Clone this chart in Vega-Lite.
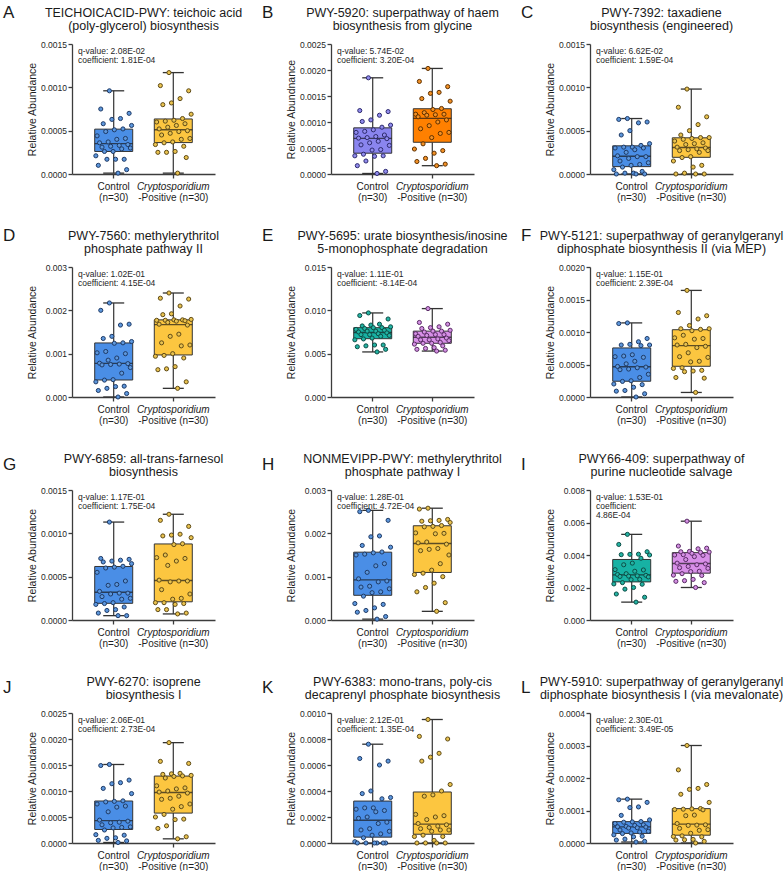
{
"$schema":"https://vega.github.io/schema/vega-lite/v6.json",
"padding":{"left":3,"top":3,"right":0,"bottom":0},
"bounds":"flush",
"columns":3,
"spacing":{"row":93,"column":116},
"resolve":{"scale":{"color":"independent","fill":"independent","stroke":"independent","xOffset":"independent"}},
"config":{
 "font":"Liberation Sans",
 "view":{"stroke":null},
 "axis":{"domainColor":"#3c3c3c","domainWidth":1.3,"tickColor":"#3c3c3c","tickWidth":1.3,"tickSize":4,"labelColor":"#1f1f1f","titleColor":"#1f1f1f","labelFont":"Liberation Sans","titleFont":"Liberation Sans","grid":false,"titleFontWeight":"normal","labelOverlap":false},
 "axisY":{"labelFontSize":8.5,"labelPadding":1.5,"minExtent":31,"maxExtent":31,"titlePadding":4,"titleFontSize":10.5,"labelOverlap":false},
 "axisX":{"labelFontSize":10,"labelPadding":14,"labelAngle":0},
 "style":{
  "ttl":{"fontSize":12.5,"lineHeight":12.8,"align":"center","baseline":"alphabetic","lineBreak":"\n","dy":-27,"color":"#1a1a1a"},
  "let":{"fontSize":17,"align":"left","baseline":"alphabetic","dx":-140.5,"color":"#1a1a1a"},
  "stt":{"fontSize":8.5,"lineHeight":8.8,"align":"left","baseline":"alphabetic","lineBreak":"\n","dx":-65.5,"dy":10,"color":"#262626"},
  "lab":{"fontSize":10,"align":"center","baseline":"alphabetic","dy":16,"color":"#1a1a1a"}
 }
},
"datasets":{
"ann":[
{"p":"A","ti":"TEICHOICACID-PWY: teichoic acid\n(poly-glycerol) biosynthesis","st":"q-value: 2.08E-02\ncoefficient: 1.81E-04"},
{"p":"B","ti":"PWY-5920: superpathway of haem\nbiosynthesis from glycine","st":"q-value: 5.74E-02\ncoefficient: 3.20E-04"},
{"p":"C","ti":"PWY-7392: taxadiene\nbiosynthesis (engineered)","st":"q-value: 6.62E-02\ncoefficient: 1.59E-04"},
{"p":"D","ti":"PWY-7560: methylerythritol\nphosphate pathway II","st":"q-value: 1.02E-01\ncoefficient: 4.15E-04"},
{"p":"E","ti":"PWY-5695: urate biosynthesis/inosine\n5-monophosphate degradation","st":"q-value: 1.11E-01\ncoefficient: -8.14E-04"},
{"p":"F","ti":"PWY-5121: superpathway of geranylgeranyl\ndiphosphate biosynthesis II (via MEP)","st":"q-value: 1.15E-01\ncoefficient: 2.39E-04"},
{"p":"G","ti":"PWY-6859: all-trans-farnesol\nbiosynthesis","st":"q-value: 1.17E-01\ncoefficient: 1.75E-04"},
{"p":"H","ti":"NONMEVIPP-PWY: methylerythritol\nphosphate pathway I","st":"q-value: 1.28E-01\ncoefficient: 4.72E-04"},
{"p":"I","ti":"PWY66-409: superpathway of\npurine nucleotide salvage","st":"q-value: 1.53E-01\ncoefficient:\n4.86E-04"},
{"p":"J","ti":"PWY-6270: isoprene\nbiosynthesis I","st":"q-value: 2.06E-01\ncoefficient: 2.73E-04"},
{"p":"K","ti":"PWY-6383: mono-trans, poly-cis\ndecaprenyl phosphate biosynthesis","st":"q-value: 2.12E-01\ncoefficient: 1.35E-04"},
{"p":"L","ti":"PWY-5910: superpathway of geranylgeranyl\ndiphosphate biosynthesis I (via mevalonate)","st":"q-value: 2.30E-01\ncoefficient: 3.49E-05"}
],
"pts":[
{"p":"A","g":"Control","v":0.00001},{"p":"A","g":"Control","v":0.00005},{"p":"A","g":"Control","v":0.00010},{"p":"A","g":"Control","v":0.00017},{"p":"A","g":"Control","v":0.00017},{"p":"A","g":"Control","v":0.00017},{"p":"A","g":"Control","v":0.00021},{"p":"A","g":"Control","v":0.00026},{"p":"A","g":"Control","v":0.00026},{"p":"A","g":"Control","v":0.00029},{"p":"A","g":"Control","v":0.00030},{"p":"A","g":"Control","v":0.00031},{"p":"A","g":"Control","v":0.00032},{"p":"A","g":"Control","v":0.00033},{"p":"A","g":"Control","v":0.00034},{"p":"A","g":"Control","v":0.00036},{"p":"A","g":"Control","v":0.00037},{"p":"A","g":"Control","v":0.00040},{"p":"A","g":"Control","v":0.00041},{"p":"A","g":"Control","v":0.00044},{"p":"A","g":"Control","v":0.00049},{"p":"A","g":"Control","v":0.00051},{"p":"A","g":"Control","v":0.00052},{"p":"A","g":"Control","v":0.00056},{"p":"A","g":"Control","v":0.00058},{"p":"A","g":"Control","v":0.00063},{"p":"A","g":"Control","v":0.00064},{"p":"A","g":"Control","v":0.00070},{"p":"A","g":"Control","v":0.00075},{"p":"A","g":"Control","v":0.00096},
{"p":"A","g":"Positive","v":0.00117},{"p":"A","g":"Positive","v":0.00102},{"p":"A","g":"Positive","v":0.00096},{"p":"A","g":"Positive","v":0.00087},{"p":"A","g":"Positive","v":0.00082},{"p":"A","g":"Positive","v":0.00080},{"p":"A","g":"Positive","v":0.00069},{"p":"A","g":"Positive","v":0.00064},{"p":"A","g":"Positive","v":0.00062},{"p":"A","g":"Positive","v":0.00061},{"p":"A","g":"Positive","v":0.00060},{"p":"A","g":"Positive","v":0.00058},{"p":"A","g":"Positive","v":0.00056},{"p":"A","g":"Positive","v":0.00054},{"p":"A","g":"Positive","v":0.00052},{"p":"A","g":"Positive","v":0.00050},{"p":"A","g":"Positive","v":0.00049},{"p":"A","g":"Positive","v":0.00047},{"p":"A","g":"Positive","v":0.00045},{"p":"A","g":"Positive","v":0.00041},{"p":"A","g":"Positive","v":0.00040},{"p":"A","g":"Positive","v":0.00037},{"p":"A","g":"Positive","v":0.00036},{"p":"A","g":"Positive","v":0.00034},{"p":"A","g":"Positive","v":0.00032},{"p":"A","g":"Positive","v":0.00026},{"p":"A","g":"Positive","v":0.00025},{"p":"A","g":"Positive","v":0.00025},{"p":"A","g":"Positive","v":0.00019},{"p":"A","g":"Positive","v":0.00001},
{"p":"B","g":"Control","v":0.00185},{"p":"B","g":"Control","v":0.00122},{"p":"B","g":"Control","v":0.00120},{"p":"B","g":"Control","v":0.00113},{"p":"B","g":"Control","v":0.00104},{"p":"B","g":"Control","v":0.00101},{"p":"B","g":"Control","v":0.00094},{"p":"B","g":"Control","v":0.00090},{"p":"B","g":"Control","v":0.00085},{"p":"B","g":"Control","v":0.00082},{"p":"B","g":"Control","v":0.00080},{"p":"B","g":"Control","v":0.00075},{"p":"B","g":"Control","v":0.00072},{"p":"B","g":"Control","v":0.00070},{"p":"B","g":"Control","v":0.00069},{"p":"B","g":"Control","v":0.00068},{"p":"B","g":"Control","v":0.00063},{"p":"B","g":"Control","v":0.00060},{"p":"B","g":"Control","v":0.00056},{"p":"B","g":"Control","v":0.00055},{"p":"B","g":"Control","v":0.00047},{"p":"B","g":"Control","v":0.00046},{"p":"B","g":"Control","v":0.00038},{"p":"B","g":"Control","v":0.00035},{"p":"B","g":"Control","v":0.00035},{"p":"B","g":"Control","v":0.00034},{"p":"B","g":"Control","v":0.00025},{"p":"B","g":"Control","v":0.00016},{"p":"B","g":"Control","v":0.00005},{"p":"B","g":"Control","v":0.00001},
{"p":"B","g":"Positive","v":0.00203},{"p":"B","g":"Positive","v":0.00178},{"p":"B","g":"Positive","v":0.00168},{"p":"B","g":"Positive","v":0.00157},{"p":"B","g":"Positive","v":0.00155},{"p":"B","g":"Positive","v":0.00145},{"p":"B","g":"Positive","v":0.00140},{"p":"B","g":"Positive","v":0.00126},{"p":"B","g":"Positive","v":0.00124},{"p":"B","g":"Positive","v":0.00118},{"p":"B","g":"Positive","v":0.00115},{"p":"B","g":"Positive","v":0.00115},{"p":"B","g":"Positive","v":0.00114},{"p":"B","g":"Positive","v":0.00113},{"p":"B","g":"Positive","v":0.00110},{"p":"B","g":"Positive","v":0.00104},{"p":"B","g":"Positive","v":0.00100},{"p":"B","g":"Positive","v":0.00093},{"p":"B","g":"Positive","v":0.00087},{"p":"B","g":"Positive","v":0.00080},{"p":"B","g":"Positive","v":0.00078},{"p":"B","g":"Positive","v":0.00070},{"p":"B","g":"Positive","v":0.00058},{"p":"B","g":"Positive","v":0.00048},{"p":"B","g":"Positive","v":0.00045},{"p":"B","g":"Positive","v":0.00040},{"p":"B","g":"Positive","v":0.00030},{"p":"B","g":"Positive","v":0.00024},{"p":"B","g":"Positive","v":0.00019},{"p":"B","g":"Positive","v":0.00016},
{"p":"C","g":"Control","v":0.00064},{"p":"C","g":"Control","v":0.00063},{"p":"C","g":"Control","v":0.00060},{"p":"C","g":"Control","v":0.00059},{"p":"C","g":"Control","v":0.00050},{"p":"C","g":"Control","v":0.00045},{"p":"C","g":"Control","v":0.00035},{"p":"C","g":"Control","v":0.00033},{"p":"C","g":"Control","v":0.00031},{"p":"C","g":"Control","v":0.00031},{"p":"C","g":"Control","v":0.00030},{"p":"C","g":"Control","v":0.00030},{"p":"C","g":"Control","v":0.00028},{"p":"C","g":"Control","v":0.00025},{"p":"C","g":"Control","v":0.00021},{"p":"C","g":"Control","v":0.00020},{"p":"C","g":"Control","v":0.00020},{"p":"C","g":"Control","v":0.00018},{"p":"C","g":"Control","v":0.00015},{"p":"C","g":"Control","v":0.00013},{"p":"C","g":"Control","v":0.00011},{"p":"C","g":"Control","v":0.00010},{"p":"C","g":"Control","v":0.00008},{"p":"C","g":"Control","v":0.00005},{"p":"C","g":"Control","v":0.00003},{"p":"C","g":"Control","v":0.00001},{"p":"C","g":"Control","v":0.00001},{"p":"C","g":"Control","v":0},{"p":"C","g":"Control","v":0},{"p":"C","g":"Control","v":0},
{"p":"C","g":"Positive","v":0.00098},{"p":"C","g":"Positive","v":0.00077},{"p":"C","g":"Positive","v":0.00066},{"p":"C","g":"Positive","v":0.00057},{"p":"C","g":"Positive","v":0.00050},{"p":"C","g":"Positive","v":0.00045},{"p":"C","g":"Positive","v":0.00042},{"p":"C","g":"Positive","v":0.00042},{"p":"C","g":"Positive","v":0.00041},{"p":"C","g":"Positive","v":0.00040},{"p":"C","g":"Positive","v":0.00038},{"p":"C","g":"Positive","v":0.00036},{"p":"C","g":"Positive","v":0.00035},{"p":"C","g":"Positive","v":0.00034},{"p":"C","g":"Positive","v":0.00031},{"p":"C","g":"Positive","v":0.00030},{"p":"C","g":"Positive","v":0.00029},{"p":"C","g":"Positive","v":0.00028},{"p":"C","g":"Positive","v":0.00027},{"p":"C","g":"Positive","v":0.00027},{"p":"C","g":"Positive","v":0.00025},{"p":"C","g":"Positive","v":0.00020},{"p":"C","g":"Positive","v":0.00019},{"p":"C","g":"Positive","v":0.00015},{"p":"C","g":"Positive","v":0.00010},{"p":"C","g":"Positive","v":0.00008},{"p":"C","g":"Positive","v":0.00001},{"p":"C","g":"Positive","v":0},{"p":"C","g":"Positive","v":0},{"p":"C","g":"Positive","v":0},
{"p":"D","g":"Control","v":0.00217},{"p":"D","g":"Control","v":0.00200},{"p":"D","g":"Control","v":0.00168},{"p":"D","g":"Control","v":0.00166},{"p":"D","g":"Control","v":0.00140},{"p":"D","g":"Control","v":0.00135},{"p":"D","g":"Control","v":0.00128},{"p":"D","g":"Control","v":0.00125},{"p":"D","g":"Control","v":0.00124},{"p":"D","g":"Control","v":0.00105},{"p":"D","g":"Control","v":0.00102},{"p":"D","g":"Control","v":0.00100},{"p":"D","g":"Control","v":0.00090},{"p":"D","g":"Control","v":0.00085},{"p":"D","g":"Control","v":0.00078},{"p":"D","g":"Control","v":0.00077},{"p":"D","g":"Control","v":0.00076},{"p":"D","g":"Control","v":0.00075},{"p":"D","g":"Control","v":0.00074},{"p":"D","g":"Control","v":0.00068},{"p":"D","g":"Control","v":0.00055},{"p":"D","g":"Control","v":0.00040},{"p":"D","g":"Control","v":0.00039},{"p":"D","g":"Control","v":0.00035},{"p":"D","g":"Control","v":0.00025},{"p":"D","g":"Control","v":0.00024},{"p":"D","g":"Control","v":0.00020},{"p":"D","g":"Control","v":0.00015},{"p":"D","g":"Control","v":0.00008},{"p":"D","g":"Control","v":0},
{"p":"D","g":"Positive","v":0.00240},{"p":"D","g":"Positive","v":0.00228},{"p":"D","g":"Positive","v":0.00226},{"p":"D","g":"Positive","v":0.00210},{"p":"D","g":"Positive","v":0.00192},{"p":"D","g":"Positive","v":0.00190},{"p":"D","g":"Positive","v":0.00179},{"p":"D","g":"Positive","v":0.00178},{"p":"D","g":"Positive","v":0.00178},{"p":"D","g":"Positive","v":0.00177},{"p":"D","g":"Positive","v":0.00177},{"p":"D","g":"Positive","v":0.00176},{"p":"D","g":"Positive","v":0.00175},{"p":"D","g":"Positive","v":0.00172},{"p":"D","g":"Positive","v":0.00168},{"p":"D","g":"Positive","v":0.00166},{"p":"D","g":"Positive","v":0.00145},{"p":"D","g":"Positive","v":0.00140},{"p":"D","g":"Positive","v":0.00125},{"p":"D","g":"Positive","v":0.00120},{"p":"D","g":"Positive","v":0.00118},{"p":"D","g":"Positive","v":0.00100},{"p":"D","g":"Positive","v":0.00096},{"p":"D","g":"Positive","v":0.00094},{"p":"D","g":"Positive","v":0.00090},{"p":"D","g":"Positive","v":0.00070},{"p":"D","g":"Positive","v":0.00065},{"p":"D","g":"Positive","v":0.00063},{"p":"D","g":"Positive","v":0.00035},{"p":"D","g":"Positive","v":0.00020},
{"p":"E","g":"Control","v":0.0097},{"p":"E","g":"Control","v":0.0094},{"p":"E","g":"Control","v":0.0090},{"p":"E","g":"Control","v":0.0084},{"p":"E","g":"Control","v":0.0083},{"p":"E","g":"Control","v":0.0082},{"p":"E","g":"Control","v":0.0081},{"p":"E","g":"Control","v":0.0080},{"p":"E","g":"Control","v":0.0080},{"p":"E","g":"Control","v":0.0079},{"p":"E","g":"Control","v":0.0078},{"p":"E","g":"Control","v":0.0077},{"p":"E","g":"Control","v":0.0076},{"p":"E","g":"Control","v":0.0076},{"p":"E","g":"Control","v":0.0075},{"p":"E","g":"Control","v":0.0074},{"p":"E","g":"Control","v":0.0073},{"p":"E","g":"Control","v":0.0072},{"p":"E","g":"Control","v":0.0072},{"p":"E","g":"Control","v":0.0071},{"p":"E","g":"Control","v":0.0070},{"p":"E","g":"Control","v":0.0068},{"p":"E","g":"Control","v":0.0067},{"p":"E","g":"Control","v":0.0066},{"p":"E","g":"Control","v":0.0060},{"p":"E","g":"Control","v":0.0060},{"p":"E","g":"Control","v":0.0059},{"p":"E","g":"Control","v":0.0058},{"p":"E","g":"Control","v":0.0055},{"p":"E","g":"Control","v":0.0052},
{"p":"E","g":"Positive","v":0.0102},{"p":"E","g":"Positive","v":0.0086},{"p":"E","g":"Positive","v":0.0084},{"p":"E","g":"Positive","v":0.0081},{"p":"E","g":"Positive","v":0.0080},{"p":"E","g":"Positive","v":0.0079},{"p":"E","g":"Positive","v":0.0077},{"p":"E","g":"Positive","v":0.0076},{"p":"E","g":"Positive","v":0.0076},{"p":"E","g":"Positive","v":0.0075},{"p":"E","g":"Positive","v":0.0073},{"p":"E","g":"Positive","v":0.0072},{"p":"E","g":"Positive","v":0.0072},{"p":"E","g":"Positive","v":0.0071},{"p":"E","g":"Positive","v":0.0070},{"p":"E","g":"Positive","v":0.0068},{"p":"E","g":"Positive","v":0.0067},{"p":"E","g":"Positive","v":0.0066},{"p":"E","g":"Positive","v":0.0066},{"p":"E","g":"Positive","v":0.0065},{"p":"E","g":"Positive","v":0.0063},{"p":"E","g":"Positive","v":0.0062},{"p":"E","g":"Positive","v":0.0062},{"p":"E","g":"Positive","v":0.0061},{"p":"E","g":"Positive","v":0.0059},{"p":"E","g":"Positive","v":0.0057},{"p":"E","g":"Positive","v":0.0056},{"p":"E","g":"Positive","v":0.0055},{"p":"E","g":"Positive","v":0.0054},{"p":"E","g":"Positive","v":0.0053},
{"p":"F","g":"Control","v":0.00114},{"p":"F","g":"Control","v":0.00113},{"p":"F","g":"Control","v":0.00090},{"p":"F","g":"Control","v":0.00085},{"p":"F","g":"Control","v":0.00081},{"p":"F","g":"Control","v":0.00080},{"p":"F","g":"Control","v":0.00080},{"p":"F","g":"Control","v":0.00079},{"p":"F","g":"Control","v":0.00065},{"p":"F","g":"Control","v":0.00063},{"p":"F","g":"Control","v":0.00062},{"p":"F","g":"Control","v":0.00061},{"p":"F","g":"Control","v":0.00055},{"p":"F","g":"Control","v":0.00051},{"p":"F","g":"Control","v":0.00047},{"p":"F","g":"Control","v":0.00046},{"p":"F","g":"Control","v":0.00045},{"p":"F","g":"Control","v":0.00043},{"p":"F","g":"Control","v":0.00042},{"p":"F","g":"Control","v":0.00035},{"p":"F","g":"Control","v":0.00030},{"p":"F","g":"Control","v":0.00025},{"p":"F","g":"Control","v":0.00024},{"p":"F","g":"Control","v":0.00020},{"p":"F","g":"Control","v":0.00019},{"p":"F","g":"Control","v":0.00015},{"p":"F","g":"Control","v":0.00010},{"p":"F","g":"Control","v":0.00009},{"p":"F","g":"Control","v":0.00005},{"p":"F","g":"Control","v":0},
{"p":"F","g":"Positive","v":0.00164},{"p":"F","g":"Positive","v":0.00130},{"p":"F","g":"Positive","v":0.00125},{"p":"F","g":"Positive","v":0.00120},{"p":"F","g":"Positive","v":0.00110},{"p":"F","g":"Positive","v":0.00105},{"p":"F","g":"Positive","v":0.00105},{"p":"F","g":"Positive","v":0.00104},{"p":"F","g":"Positive","v":0.00102},{"p":"F","g":"Positive","v":0.00095},{"p":"F","g":"Positive","v":0.00091},{"p":"F","g":"Positive","v":0.00090},{"p":"F","g":"Positive","v":0.00089},{"p":"F","g":"Positive","v":0.00081},{"p":"F","g":"Positive","v":0.00080},{"p":"F","g":"Positive","v":0.00078},{"p":"F","g":"Positive","v":0.00076},{"p":"F","g":"Positive","v":0.00068},{"p":"F","g":"Positive","v":0.00062},{"p":"F","g":"Positive","v":0.00061},{"p":"F","g":"Positive","v":0.00055},{"p":"F","g":"Positive","v":0.00054},{"p":"F","g":"Positive","v":0.00045},{"p":"F","g":"Positive","v":0.00044},{"p":"F","g":"Positive","v":0.00041},{"p":"F","g":"Positive","v":0.00040},{"p":"F","g":"Positive","v":0.00039},{"p":"F","g":"Positive","v":0.00030},{"p":"F","g":"Positive","v":0.00029},{"p":"F","g":"Positive","v":0.00007},
{"p":"G","g":"Control","v":0.00113},{"p":"G","g":"Control","v":0.00071},{"p":"G","g":"Control","v":0.00070},{"p":"G","g":"Control","v":0.00069},{"p":"G","g":"Control","v":0.00068},{"p":"G","g":"Control","v":0.00067},{"p":"G","g":"Control","v":0.00065},{"p":"G","g":"Control","v":0.00062},{"p":"G","g":"Control","v":0.00061},{"p":"G","g":"Control","v":0.00060},{"p":"G","g":"Control","v":0.00055},{"p":"G","g":"Control","v":0.00045},{"p":"G","g":"Control","v":0.00041},{"p":"G","g":"Control","v":0.00040},{"p":"G","g":"Control","v":0.00033},{"p":"G","g":"Control","v":0.00031},{"p":"G","g":"Control","v":0.00031},{"p":"G","g":"Control","v":0.00030},{"p":"G","g":"Control","v":0.00027},{"p":"G","g":"Control","v":0.00025},{"p":"G","g":"Control","v":0.00024},{"p":"G","g":"Control","v":0.00020},{"p":"G","g":"Control","v":0.00019},{"p":"G","g":"Control","v":0.00018},{"p":"G","g":"Control","v":0.00015},{"p":"G","g":"Control","v":0.00012},{"p":"G","g":"Control","v":0.00011},{"p":"G","g":"Control","v":0.00008},{"p":"G","g":"Control","v":0.00005},{"p":"G","g":"Control","v":0.00005},
{"p":"G","g":"Positive","v":0.00122},{"p":"G","g":"Positive","v":0.00115},{"p":"G","g":"Positive","v":0.00108},{"p":"G","g":"Positive","v":0.00099},{"p":"G","g":"Positive","v":0.00098},{"p":"G","g":"Positive","v":0.00097},{"p":"G","g":"Positive","v":0.00095},{"p":"G","g":"Positive","v":0.00088},{"p":"G","g":"Positive","v":0.00087},{"p":"G","g":"Positive","v":0.00075},{"p":"G","g":"Positive","v":0.00072},{"p":"G","g":"Positive","v":0.00071},{"p":"G","g":"Positive","v":0.00068},{"p":"G","g":"Positive","v":0.00063},{"p":"G","g":"Positive","v":0.00046},{"p":"G","g":"Positive","v":0.00045},{"p":"G","g":"Positive","v":0.00045},{"p":"G","g":"Positive","v":0.00044},{"p":"G","g":"Positive","v":0.00035},{"p":"G","g":"Positive","v":0.00030},{"p":"G","g":"Positive","v":0.00025},{"p":"G","g":"Positive","v":0.00024},{"p":"G","g":"Positive","v":0.00020},{"p":"G","g":"Positive","v":0.00020},{"p":"G","g":"Positive","v":0.00019},{"p":"G","g":"Positive","v":0.00018},{"p":"G","g":"Positive","v":0.00012},{"p":"G","g":"Positive","v":0.00012},{"p":"G","g":"Positive","v":0.00008},{"p":"G","g":"Positive","v":0.00007},
{"p":"H","g":"Control","v":0.00253},{"p":"H","g":"Control","v":0.00250},{"p":"H","g":"Control","v":0.00230},{"p":"H","g":"Control","v":0.00194},{"p":"H","g":"Control","v":0.00192},{"p":"H","g":"Control","v":0.00172},{"p":"H","g":"Control","v":0.00168},{"p":"H","g":"Control","v":0.00157},{"p":"H","g":"Control","v":0.00155},{"p":"H","g":"Control","v":0.00152},{"p":"H","g":"Control","v":0.00150},{"p":"H","g":"Control","v":0.00130},{"p":"H","g":"Control","v":0.00125},{"p":"H","g":"Control","v":0.00110},{"p":"H","g":"Control","v":0.00095},{"p":"H","g":"Control","v":0.00090},{"p":"H","g":"Control","v":0.00088},{"p":"H","g":"Control","v":0.00078},{"p":"H","g":"Control","v":0.00076},{"p":"H","g":"Control","v":0.00072},{"p":"H","g":"Control","v":0.00065},{"p":"H","g":"Control","v":0.00063},{"p":"H","g":"Control","v":0.00055},{"p":"H","g":"Control","v":0.00038},{"p":"H","g":"Control","v":0.00036},{"p":"H","g":"Control","v":0.00028},{"p":"H","g":"Control","v":0.00022},{"p":"H","g":"Control","v":0.00018},{"p":"H","g":"Control","v":0.00008},{"p":"H","g":"Control","v":0.00002},
{"p":"H","g":"Positive","v":0.00258},{"p":"H","g":"Positive","v":0.00256},{"p":"H","g":"Positive","v":0.00232},{"p":"H","g":"Positive","v":0.00230},{"p":"H","g":"Positive","v":0.00229},{"p":"H","g":"Positive","v":0.00228},{"p":"H","g":"Positive","v":0.00225},{"p":"H","g":"Positive","v":0.00218},{"p":"H","g":"Positive","v":0.00216},{"p":"H","g":"Positive","v":0.00215},{"p":"H","g":"Positive","v":0.00201},{"p":"H","g":"Positive","v":0.00200},{"p":"H","g":"Positive","v":0.00199},{"p":"H","g":"Positive","v":0.00180},{"p":"H","g":"Positive","v":0.00178},{"p":"H","g":"Positive","v":0.00175},{"p":"H","g":"Positive","v":0.00165},{"p":"H","g":"Positive","v":0.00163},{"p":"H","g":"Positive","v":0.00160},{"p":"H","g":"Positive","v":0.00150},{"p":"H","g":"Positive","v":0.00130},{"p":"H","g":"Positive","v":0.00115},{"p":"H","g":"Positive","v":0.00108},{"p":"H","g":"Positive","v":0.00105},{"p":"H","g":"Positive","v":0.00100},{"p":"H","g":"Positive","v":0.00085},{"p":"H","g":"Positive","v":0.00075},{"p":"H","g":"Positive","v":0.00065},{"p":"H","g":"Positive","v":0.00040},{"p":"H","g":"Positive","v":0.00020},
{"p":"I","g":"Control","v":0.00527},{"p":"I","g":"Control","v":0.00465},{"p":"I","g":"Control","v":0.00420},{"p":"I","g":"Control","v":0.00405},{"p":"I","g":"Control","v":0.00404},{"p":"I","g":"Control","v":0.00402},{"p":"I","g":"Control","v":0.00400},{"p":"I","g":"Control","v":0.00380},{"p":"I","g":"Control","v":0.00350},{"p":"I","g":"Control","v":0.00340},{"p":"I","g":"Control","v":0.00310},{"p":"I","g":"Control","v":0.00308},{"p":"I","g":"Control","v":0.00300},{"p":"I","g":"Control","v":0.00285},{"p":"I","g":"Control","v":0.00280},{"p":"I","g":"Control","v":0.00275},{"p":"I","g":"Control","v":0.00272},{"p":"I","g":"Control","v":0.00270},{"p":"I","g":"Control","v":0.00268},{"p":"I","g":"Control","v":0.00265},{"p":"I","g":"Control","v":0.00250},{"p":"I","g":"Control","v":0.00248},{"p":"I","g":"Control","v":0.00230},{"p":"I","g":"Control","v":0.00222},{"p":"I","g":"Control","v":0.00220},{"p":"I","g":"Control","v":0.00200},{"p":"I","g":"Control","v":0.00190},{"p":"I","g":"Control","v":0.00160},{"p":"I","g":"Control","v":0.00140},{"p":"I","g":"Control","v":0.00110},
{"p":"I","g":"Positive","v":0.00608},{"p":"I","g":"Positive","v":0.00455},{"p":"I","g":"Positive","v":0.00442},{"p":"I","g":"Positive","v":0.00438},{"p":"I","g":"Positive","v":0.00422},{"p":"I","g":"Positive","v":0.00420},{"p":"I","g":"Positive","v":0.00418},{"p":"I","g":"Positive","v":0.00416},{"p":"I","g":"Positive","v":0.00410},{"p":"I","g":"Positive","v":0.00402},{"p":"I","g":"Positive","v":0.00400},{"p":"I","g":"Positive","v":0.00398},{"p":"I","g":"Positive","v":0.00390},{"p":"I","g":"Positive","v":0.00372},{"p":"I","g":"Positive","v":0.00350},{"p":"I","g":"Positive","v":0.00345},{"p":"I","g":"Positive","v":0.00340},{"p":"I","g":"Positive","v":0.00330},{"p":"I","g":"Positive","v":0.00322},{"p":"I","g":"Positive","v":0.00318},{"p":"I","g":"Positive","v":0.00300},{"p":"I","g":"Positive","v":0.00298},{"p":"I","g":"Positive","v":0.00285},{"p":"I","g":"Positive","v":0.00276},{"p":"I","g":"Positive","v":0.00274},{"p":"I","g":"Positive","v":0.00250},{"p":"I","g":"Positive","v":0.00242},{"p":"I","g":"Positive","v":0.00238},{"p":"I","g":"Positive","v":0.00230},{"p":"I","g":"Positive","v":0.00200},
{"p":"J","g":"Control","v":0.00151},{"p":"J","g":"Control","v":0.00149},{"p":"J","g":"Control","v":0.00121},{"p":"J","g":"Control","v":0.00116},{"p":"J","g":"Control","v":0.00114},{"p":"J","g":"Control","v":0.00105},{"p":"J","g":"Control","v":0.00095},{"p":"J","g":"Control","v":0.00081},{"p":"J","g":"Control","v":0.00080},{"p":"J","g":"Control","v":0.00079},{"p":"J","g":"Control","v":0.00075},{"p":"J","g":"Control","v":0.00071},{"p":"J","g":"Control","v":0.00069},{"p":"J","g":"Control","v":0.00060},{"p":"J","g":"Control","v":0.00044},{"p":"J","g":"Control","v":0.00042},{"p":"J","g":"Control","v":0.00040},{"p":"J","g":"Control","v":0.00039},{"p":"J","g":"Control","v":0.00035},{"p":"J","g":"Control","v":0.00031},{"p":"J","g":"Control","v":0.00030},{"p":"J","g":"Control","v":0.00029},{"p":"J","g":"Control","v":0.00025},{"p":"J","g":"Control","v":0.00016},{"p":"J","g":"Control","v":0.00015},{"p":"J","g":"Control","v":0.00010},{"p":"J","g":"Control","v":0.00009},{"p":"J","g":"Control","v":0.00005},{"p":"J","g":"Control","v":0.00004},{"p":"J","g":"Control","v":0.00001},
{"p":"J","g":"Positive","v":0.00193},{"p":"J","g":"Positive","v":0.00157},{"p":"J","g":"Positive","v":0.00153},{"p":"J","g":"Positive","v":0.00134},{"p":"J","g":"Positive","v":0.00133},{"p":"J","g":"Positive","v":0.00132},{"p":"J","g":"Positive","v":0.00130},{"p":"J","g":"Positive","v":0.00129},{"p":"J","g":"Positive","v":0.00128},{"p":"J","g":"Positive","v":0.00125},{"p":"J","g":"Positive","v":0.00110},{"p":"J","g":"Positive","v":0.00106},{"p":"J","g":"Positive","v":0.00104},{"p":"J","g":"Positive","v":0.00100},{"p":"J","g":"Positive","v":0.00098},{"p":"J","g":"Positive","v":0.00096},{"p":"J","g":"Positive","v":0.00090},{"p":"J","g":"Positive","v":0.00086},{"p":"J","g":"Positive","v":0.00084},{"p":"J","g":"Positive","v":0.00075},{"p":"J","g":"Positive","v":0.00070},{"p":"J","g":"Positive","v":0.00065},{"p":"J","g":"Positive","v":0.00055},{"p":"J","g":"Positive","v":0.00050},{"p":"J","g":"Positive","v":0.00046},{"p":"J","g":"Positive","v":0.00045},{"p":"J","g":"Positive","v":0.00033},{"p":"J","g":"Positive","v":0.00028},{"p":"J","g":"Positive","v":0.00012},{"p":"J","g":"Positive","v":0.00008},
{"p":"K","g":"Control","v":0.00076},{"p":"K","g":"Control","v":0.00065},{"p":"K","g":"Control","v":0.00063},{"p":"K","g":"Control","v":0.00060},{"p":"K","g":"Control","v":0.00040},{"p":"K","g":"Control","v":0.00038},{"p":"K","g":"Control","v":0.00035},{"p":"K","g":"Control","v":0.00034},{"p":"K","g":"Control","v":0.00027},{"p":"K","g":"Control","v":0.00027},{"p":"K","g":"Control","v":0.00026},{"p":"K","g":"Control","v":0.00025},{"p":"K","g":"Control","v":0.00024},{"p":"K","g":"Control","v":0.00020},{"p":"K","g":"Control","v":0.00019},{"p":"K","g":"Control","v":0.00016},{"p":"K","g":"Control","v":0.00015},{"p":"K","g":"Control","v":0.00011},{"p":"K","g":"Control","v":0.00010},{"p":"K","g":"Control","v":0.00009},{"p":"K","g":"Control","v":0.00007},{"p":"K","g":"Control","v":0.00006},{"p":"K","g":"Control","v":0.00004},{"p":"K","g":"Control","v":0.00001},{"p":"K","g":"Control","v":0},{"p":"K","g":"Control","v":0},{"p":"K","g":"Control","v":0},{"p":"K","g":"Control","v":0},{"p":"K","g":"Control","v":0},{"p":"K","g":"Control","v":0},
{"p":"K","g":"Positive","v":0.00095},{"p":"K","g":"Positive","v":0.00082},{"p":"K","g":"Positive","v":0.00080},{"p":"K","g":"Positive","v":0.00069},{"p":"K","g":"Positive","v":0.00066},{"p":"K","g":"Positive","v":0.00063},{"p":"K","g":"Positive","v":0.00045},{"p":"K","g":"Positive","v":0.00040},{"p":"K","g":"Positive","v":0.00037},{"p":"K","g":"Positive","v":0.00036},{"p":"K","g":"Positive","v":0.00022},{"p":"K","g":"Positive","v":0.00021},{"p":"K","g":"Positive","v":0.00020},{"p":"K","g":"Positive","v":0.00018},{"p":"K","g":"Positive","v":0.00015},{"p":"K","g":"Positive","v":0.00014},{"p":"K","g":"Positive","v":0.00013},{"p":"K","g":"Positive","v":0.00012},{"p":"K","g":"Positive","v":0.00011},{"p":"K","g":"Positive","v":0.00010},{"p":"K","g":"Positive","v":0.00010},{"p":"K","g":"Positive","v":0.00009},{"p":"K","g":"Positive","v":0.00006},{"p":"K","g":"Positive","v":0.00005},{"p":"K","g":"Positive","v":0.00005},{"p":"K","g":"Positive","v":0.00002},{"p":"K","g":"Positive","v":0},{"p":"K","g":"Positive","v":0},{"p":"K","g":"Positive","v":0},{"p":"K","g":"Positive","v":0},
{"p":"L","g":"Control","v":0.000135},{"p":"L","g":"Control","v":0.000133},{"p":"L","g":"Control","v":0.000125},{"p":"L","g":"Control","v":0.000111},{"p":"L","g":"Control","v":0.000109},{"p":"L","g":"Control","v":0.000085},{"p":"L","g":"Control","v":0.000071},{"p":"L","g":"Control","v":0.000066},{"p":"L","g":"Control","v":0.000065},{"p":"L","g":"Control","v":0.000064},{"p":"L","g":"Control","v":0.000060},{"p":"L","g":"Control","v":0.000056},{"p":"L","g":"Control","v":0.000054},{"p":"L","g":"Control","v":0.000051},{"p":"L","g":"Control","v":0.000050},{"p":"L","g":"Control","v":0.000049},{"p":"L","g":"Control","v":0.000047},{"p":"L","g":"Control","v":0.000046},{"p":"L","g":"Control","v":0.000040},{"p":"L","g":"Control","v":0.000036},{"p":"L","g":"Control","v":0.000034},{"p":"L","g":"Control","v":0.000031},{"p":"L","g":"Control","v":0.000029},{"p":"L","g":"Control","v":0.000025},{"p":"L","g":"Control","v":0.000021},{"p":"L","g":"Control","v":0.000019},{"p":"L","g":"Control","v":0.000012},{"p":"L","g":"Control","v":0.000009},{"p":"L","g":"Control","v":0.000005},{"p":"L","g":"Control","v":0.000003},
{"p":"L","g":"Positive","v":0.000300},{"p":"L","g":"Positive","v":0.000225},{"p":"L","g":"Positive","v":0.000180},{"p":"L","g":"Positive","v":0.000168},{"p":"L","g":"Positive","v":0.000165},{"p":"L","g":"Positive","v":0.000150},{"p":"L","g":"Positive","v":0.000125},{"p":"L","g":"Positive","v":0.000106},{"p":"L","g":"Positive","v":0.000105},{"p":"L","g":"Positive","v":0.000104},{"p":"L","g":"Positive","v":0.000103},{"p":"L","g":"Positive","v":0.000102},{"p":"L","g":"Positive","v":0.000086},{"p":"L","g":"Positive","v":0.000084},{"p":"L","g":"Positive","v":0.000060},{"p":"L","g":"Positive","v":0.000056},{"p":"L","g":"Positive","v":0.000055},{"p":"L","g":"Positive","v":0.000054},{"p":"L","g":"Positive","v":0.000045},{"p":"L","g":"Positive","v":0.000041},{"p":"L","g":"Positive","v":0.000039},{"p":"L","g":"Positive","v":0.000030},{"p":"L","g":"Positive","v":0.000022},{"p":"L","g":"Positive","v":0.000020},{"p":"L","g":"Positive","v":0.000019},{"p":"L","g":"Positive","v":0.000011},{"p":"L","g":"Positive","v":0.000010},{"p":"L","g":"Positive","v":0.000009},{"p":"L","g":"Positive","v":0.000005},{"p":"L","g":"Positive","v":0}
]
},
"concat":[
{"width":143,"height":130,"data":{"name":"ann"},"transform":[{"filter":"datum.p=='A'"}],"layer":[
 {"data":{"name":"pts"},"transform":[{"filter":"datum.p=='A'"}],"mark":{"type":"boxplot","extent":"min-max","size":38,"box":{"stroke":"#333","strokeWidth":1},"median":{"color":"#1a1a1a","thickness":1.4},"rule":{"color":"#333","strokeWidth":1.2},"ticks":{"color":"#333","size":21,"thickness":1.3}},
  "encoding":{"x":{"field":"g","type":"nominal","title":null,"scale":{"domain":["Control","Positive"],"paddingInner":0.38,"paddingOuter":0.39},"axis":{"labelExpr":"datum.value=='Control'?'(n=30)':'-Positive (n=30)'"}},
   "y":{"field":"v","type":"quantitative","title":"Relative Abundance","scale":{"domain":[0,0.0015],"nice":false},"axis":{"values":[0,0.0005,0.001,0.0015],"format":".4f","labelOverlap":false,"tickCount":4}},
   "color":{"field":"g","type":"nominal","legend":null,"scale":{"domain":["Control","Positive"],"range":["#4a8ee6","#fcc640"]}}}},
 {"data":{"name":"pts"},"transform":[{"filter":"datum.p=='A'"},{"window":[{"op":"row_number","as":"rk"}],"sort":[{"field":"v"}],"groupby":["g"]}],"mark":{"type":"circle","size":17,"strokeWidth":1,"opacity":1},
  "encoding":{"x":{"field":"g","type":"nominal"},"xOffset":{"field":"rk","type":"nominal","scale":{"domain":[7,20,3,16,29,12,25,8,21,4,17,30,13,26,9,22,5,18,1,14,27,10,23,6,19,2,15,28,11,24]}},"y":{"field":"v","type":"quantitative"},
   "fill":{"field":"g","type":"nominal","legend":null,"scale":{"domain":["Control","Positive"],"range":["#5d97dc","#e9c24f"]}},
   "stroke":{"field":"g","type":"nominal","legend":null,"scale":{"domain":["Control","Positive"],"range":["#1e3a66","#5e4a16"]}}}},
 {"mark":{"type":"text","style":"ttl"},"encoding":{"y":{"datum":0.0015,"type":"quantitative"},"text":{"field":"ti"}}},
 {"mark":{"type":"text","style":"let","dy":-26.5},"encoding":{"y":{"datum":0.0015,"type":"quantitative"},"text":{"field":"p"}}},
 {"mark":{"type":"text","style":"stt"},"encoding":{"y":{"datum":0.0015,"type":"quantitative"},"text":{"field":"st"}}},
 {"mark":{"type":"text","style":"lab"},"encoding":{"x":{"datum":"Control","type":"nominal"},"y":{"datum":0,"type":"quantitative"},"text":{"value":"Control"}}},
 {"mark":{"type":"text","style":"lab","fontStyle":"italic"},"encoding":{"x":{"datum":"Positive","type":"nominal"},"y":{"datum":0,"type":"quantitative"},"text":{"value":"Cryptosporidium"}}}
]},
{"width":143,"height":130,"data":{"name":"ann"},"transform":[{"filter":"datum.p=='B'"}],"layer":[
 {"data":{"name":"pts"},"transform":[{"filter":"datum.p=='B'"}],"mark":{"type":"boxplot","extent":"min-max","size":38,"box":{"stroke":"#333","strokeWidth":1},"median":{"color":"#1a1a1a","thickness":1.4},"rule":{"color":"#333","strokeWidth":1.2},"ticks":{"color":"#333","size":21,"thickness":1.3}},
  "encoding":{"x":{"field":"g","type":"nominal","title":null,"scale":{"domain":["Control","Positive"],"paddingInner":0.38,"paddingOuter":0.39},"axis":{"labelExpr":"datum.value=='Control'?'(n=30)':'-Positive (n=30)'"}},
   "y":{"field":"v","type":"quantitative","title":"Relative Abundnance","scale":{"domain":[0,0.0025],"nice":false},"axis":{"values":[0,0.0005,0.001,0.0015,0.002,0.0025],"format":".4f","labelOverlap":false,"tickCount":6}},
   "color":{"field":"g","type":"nominal","legend":null,"scale":{"domain":["Control","Positive"],"range":["#8a85ef","#ff8000"]}}}},
 {"data":{"name":"pts"},"transform":[{"filter":"datum.p=='B'"},{"window":[{"op":"row_number","as":"rk"}],"sort":[{"field":"v"}],"groupby":["g"]}],"mark":{"type":"circle","size":17,"strokeWidth":1,"opacity":1},
  "encoding":{"x":{"field":"g","type":"nominal"},"xOffset":{"field":"rk","type":"nominal","scale":{"domain":[7,20,3,16,29,12,25,8,21,4,17,30,13,26,9,22,5,18,1,14,27,10,23,6,19,2,15,28,11,24]}},"y":{"field":"v","type":"quantitative"},
   "fill":{"field":"g","type":"nominal","legend":null,"scale":{"domain":["Control","Positive"],"range":["#918ced","#f39126"]}},
   "stroke":{"field":"g","type":"nominal","legend":null,"scale":{"domain":["Control","Positive"],"range":["#2d2a6e","#5e3000"]}}}},
 {"mark":{"type":"text","style":"ttl"},"encoding":{"y":{"datum":0.0025,"type":"quantitative"},"text":{"field":"ti"}}},
 {"mark":{"type":"text","style":"let","dy":-26.5},"encoding":{"y":{"datum":0.0025,"type":"quantitative"},"text":{"field":"p"}}},
 {"mark":{"type":"text","style":"stt"},"encoding":{"y":{"datum":0.0025,"type":"quantitative"},"text":{"field":"st"}}},
 {"mark":{"type":"text","style":"lab"},"encoding":{"x":{"datum":"Control","type":"nominal"},"y":{"datum":0,"type":"quantitative"},"text":{"value":"Control"}}},
 {"mark":{"type":"text","style":"lab","fontStyle":"italic"},"encoding":{"x":{"datum":"Positive","type":"nominal"},"y":{"datum":0,"type":"quantitative"},"text":{"value":"Cryptosporidium"}}}
]},
{"width":143,"height":130,"data":{"name":"ann"},"transform":[{"filter":"datum.p=='C'"}],"layer":[
 {"data":{"name":"pts"},"transform":[{"filter":"datum.p=='C'"}],"mark":{"type":"boxplot","extent":"min-max","size":38,"box":{"stroke":"#333","strokeWidth":1},"median":{"color":"#1a1a1a","thickness":1.4},"rule":{"color":"#333","strokeWidth":1.2},"ticks":{"color":"#333","size":21,"thickness":1.3}},
  "encoding":{"x":{"field":"g","type":"nominal","title":null,"scale":{"domain":["Control","Positive"],"paddingInner":0.38,"paddingOuter":0.39},"axis":{"labelExpr":"datum.value=='Control'?'(n=30)':'-Positive (n=30)'"}},
   "y":{"field":"v","type":"quantitative","title":"Relative Abundance","scale":{"domain":[0,0.0015],"nice":false},"axis":{"values":[0,0.0005,0.001,0.0015],"format":".4f","labelOverlap":false,"tickCount":4}},
   "color":{"field":"g","type":"nominal","legend":null,"scale":{"domain":["Control","Positive"],"range":["#4a8ee6","#fcc640"]}}}},
 {"data":{"name":"pts"},"transform":[{"filter":"datum.p=='C'"},{"window":[{"op":"row_number","as":"rk"}],"sort":[{"field":"v"}],"groupby":["g"]}],"mark":{"type":"circle","size":17,"strokeWidth":1,"opacity":1},
  "encoding":{"x":{"field":"g","type":"nominal"},"xOffset":{"field":"rk","type":"nominal","scale":{"domain":[7,20,3,16,29,12,25,8,21,4,17,30,13,26,9,22,5,18,1,14,27,10,23,6,19,2,15,28,11,24]}},"y":{"field":"v","type":"quantitative"},
   "fill":{"field":"g","type":"nominal","legend":null,"scale":{"domain":["Control","Positive"],"range":["#5d97dc","#e9c24f"]}},
   "stroke":{"field":"g","type":"nominal","legend":null,"scale":{"domain":["Control","Positive"],"range":["#1e3a66","#5e4a16"]}}}},
 {"mark":{"type":"text","style":"ttl"},"encoding":{"y":{"datum":0.0015,"type":"quantitative"},"text":{"field":"ti"}}},
 {"mark":{"type":"text","style":"let","dy":-26.5},"encoding":{"y":{"datum":0.0015,"type":"quantitative"},"text":{"field":"p"}}},
 {"mark":{"type":"text","style":"stt"},"encoding":{"y":{"datum":0.0015,"type":"quantitative"},"text":{"field":"st"}}},
 {"mark":{"type":"text","style":"lab"},"encoding":{"x":{"datum":"Control","type":"nominal"},"y":{"datum":0,"type":"quantitative"},"text":{"value":"Control"}}},
 {"mark":{"type":"text","style":"lab","fontStyle":"italic"},"encoding":{"x":{"datum":"Positive","type":"nominal"},"y":{"datum":0,"type":"quantitative"},"text":{"value":"Cryptosporidium"}}}
]},
{"width":143,"height":130,"data":{"name":"ann"},"transform":[{"filter":"datum.p=='D'"}],"layer":[
 {"data":{"name":"pts"},"transform":[{"filter":"datum.p=='D'"}],"mark":{"type":"boxplot","extent":"min-max","size":38,"box":{"stroke":"#333","strokeWidth":1},"median":{"color":"#1a1a1a","thickness":1.4},"rule":{"color":"#333","strokeWidth":1.2},"ticks":{"color":"#333","size":21,"thickness":1.3}},
  "encoding":{"x":{"field":"g","type":"nominal","title":null,"scale":{"domain":["Control","Positive"],"paddingInner":0.38,"paddingOuter":0.39},"axis":{"labelExpr":"datum.value=='Control'?'(n=30)':'-Positive (n=30)'"}},
   "y":{"field":"v","type":"quantitative","title":"Relative Abundance","scale":{"domain":[0,0.003],"nice":false},"axis":{"values":[0,0.001,0.002,0.003],"format":".3f","labelOverlap":false,"tickCount":4}},
   "color":{"field":"g","type":"nominal","legend":null,"scale":{"domain":["Control","Positive"],"range":["#4a8ee6","#fcc640"]}}}},
 {"data":{"name":"pts"},"transform":[{"filter":"datum.p=='D'"},{"window":[{"op":"row_number","as":"rk"}],"sort":[{"field":"v"}],"groupby":["g"]}],"mark":{"type":"circle","size":17,"strokeWidth":1,"opacity":1},
  "encoding":{"x":{"field":"g","type":"nominal"},"xOffset":{"field":"rk","type":"nominal","scale":{"domain":[7,20,3,16,29,12,25,8,21,4,17,30,13,26,9,22,5,18,1,14,27,10,23,6,19,2,15,28,11,24]}},"y":{"field":"v","type":"quantitative"},
   "fill":{"field":"g","type":"nominal","legend":null,"scale":{"domain":["Control","Positive"],"range":["#5d97dc","#e9c24f"]}},
   "stroke":{"field":"g","type":"nominal","legend":null,"scale":{"domain":["Control","Positive"],"range":["#1e3a66","#5e4a16"]}}}},
 {"mark":{"type":"text","style":"ttl"},"encoding":{"y":{"datum":0.003,"type":"quantitative"},"text":{"field":"ti"}}},
 {"mark":{"type":"text","style":"let","dy":-26.5},"encoding":{"y":{"datum":0.003,"type":"quantitative"},"text":{"field":"p"}}},
 {"mark":{"type":"text","style":"stt"},"encoding":{"y":{"datum":0.003,"type":"quantitative"},"text":{"field":"st"}}},
 {"mark":{"type":"text","style":"lab"},"encoding":{"x":{"datum":"Control","type":"nominal"},"y":{"datum":0,"type":"quantitative"},"text":{"value":"Control"}}},
 {"mark":{"type":"text","style":"lab","fontStyle":"italic"},"encoding":{"x":{"datum":"Positive","type":"nominal"},"y":{"datum":0,"type":"quantitative"},"text":{"value":"Cryptosporidium"}}}
]},
{"width":143,"height":130,"data":{"name":"ann"},"transform":[{"filter":"datum.p=='E'"}],"layer":[
 {"data":{"name":"pts"},"transform":[{"filter":"datum.p=='E'"}],"mark":{"type":"boxplot","extent":"min-max","size":38,"box":{"stroke":"#333","strokeWidth":1},"median":{"color":"#1a1a1a","thickness":1.4},"rule":{"color":"#333","strokeWidth":1.2},"ticks":{"color":"#333","size":21,"thickness":1.3}},
  "encoding":{"x":{"field":"g","type":"nominal","title":null,"scale":{"domain":["Control","Positive"],"paddingInner":0.38,"paddingOuter":0.39},"axis":{"labelExpr":"datum.value=='Control'?'(n=30)':'-Positive (n=30)'"}},
   "y":{"field":"v","type":"quantitative","title":"Relative Abundance","scale":{"domain":[0,0.015],"nice":false},"axis":{"values":[0,0.005,0.01,0.015],"format":".3f","labelOverlap":false,"tickCount":4}},
   "color":{"field":"g","type":"nominal","legend":null,"scale":{"domain":["Control","Positive"],"range":["#17b2a4","#d88fe8"]}}}},
 {"data":{"name":"pts"},"transform":[{"filter":"datum.p=='E'"},{"window":[{"op":"row_number","as":"rk"}],"sort":[{"field":"v"}],"groupby":["g"]}],"mark":{"type":"circle","size":17,"strokeWidth":1,"opacity":1},
  "encoding":{"x":{"field":"g","type":"nominal"},"xOffset":{"field":"rk","type":"nominal","scale":{"domain":[7,20,3,16,29,12,25,8,21,4,17,30,13,26,9,22,5,18,1,14,27,10,23,6,19,2,15,28,11,24]}},"y":{"field":"v","type":"quantitative"},
   "fill":{"field":"g","type":"nominal","legend":null,"scale":{"domain":["Control","Positive"],"range":["#23b3a3","#d390e2"]}},
   "stroke":{"field":"g","type":"nominal","legend":null,"scale":{"domain":["Control","Positive"],"range":["#0c4d46","#5a2a66"]}}}},
 {"mark":{"type":"text","style":"ttl"},"encoding":{"y":{"datum":0.015,"type":"quantitative"},"text":{"field":"ti"}}},
 {"mark":{"type":"text","style":"let","dy":-26.5},"encoding":{"y":{"datum":0.015,"type":"quantitative"},"text":{"field":"p"}}},
 {"mark":{"type":"text","style":"stt"},"encoding":{"y":{"datum":0.015,"type":"quantitative"},"text":{"field":"st"}}},
 {"mark":{"type":"text","style":"lab"},"encoding":{"x":{"datum":"Control","type":"nominal"},"y":{"datum":0,"type":"quantitative"},"text":{"value":"Control"}}},
 {"mark":{"type":"text","style":"lab","fontStyle":"italic"},"encoding":{"x":{"datum":"Positive","type":"nominal"},"y":{"datum":0,"type":"quantitative"},"text":{"value":"Cryptosporidium"}}}
]},
{"width":143,"height":130,"data":{"name":"ann"},"transform":[{"filter":"datum.p=='F'"}],"layer":[
 {"data":{"name":"pts"},"transform":[{"filter":"datum.p=='F'"}],"mark":{"type":"boxplot","extent":"min-max","size":38,"box":{"stroke":"#333","strokeWidth":1},"median":{"color":"#1a1a1a","thickness":1.4},"rule":{"color":"#333","strokeWidth":1.2},"ticks":{"color":"#333","size":21,"thickness":1.3}},
  "encoding":{"x":{"field":"g","type":"nominal","title":null,"scale":{"domain":["Control","Positive"],"paddingInner":0.38,"paddingOuter":0.39},"axis":{"labelExpr":"datum.value=='Control'?'(n=30)':'-Positive (n=30)'"}},
   "y":{"field":"v","type":"quantitative","title":"Relative Abundance","scale":{"domain":[0,0.002],"nice":false},"axis":{"values":[0,0.0005,0.001,0.0015,0.002],"format":".4f","labelOverlap":false,"tickCount":5}},
   "color":{"field":"g","type":"nominal","legend":null,"scale":{"domain":["Control","Positive"],"range":["#4a8ee6","#fcc640"]}}}},
 {"data":{"name":"pts"},"transform":[{"filter":"datum.p=='F'"},{"window":[{"op":"row_number","as":"rk"}],"sort":[{"field":"v"}],"groupby":["g"]}],"mark":{"type":"circle","size":17,"strokeWidth":1,"opacity":1},
  "encoding":{"x":{"field":"g","type":"nominal"},"xOffset":{"field":"rk","type":"nominal","scale":{"domain":[7,20,3,16,29,12,25,8,21,4,17,30,13,26,9,22,5,18,1,14,27,10,23,6,19,2,15,28,11,24]}},"y":{"field":"v","type":"quantitative"},
   "fill":{"field":"g","type":"nominal","legend":null,"scale":{"domain":["Control","Positive"],"range":["#5d97dc","#e9c24f"]}},
   "stroke":{"field":"g","type":"nominal","legend":null,"scale":{"domain":["Control","Positive"],"range":["#1e3a66","#5e4a16"]}}}},
 {"mark":{"type":"text","style":"ttl"},"encoding":{"y":{"datum":0.002,"type":"quantitative"},"text":{"field":"ti"}}},
 {"mark":{"type":"text","style":"let","dy":-26.5},"encoding":{"y":{"datum":0.002,"type":"quantitative"},"text":{"field":"p"}}},
 {"mark":{"type":"text","style":"stt"},"encoding":{"y":{"datum":0.002,"type":"quantitative"},"text":{"field":"st"}}},
 {"mark":{"type":"text","style":"lab"},"encoding":{"x":{"datum":"Control","type":"nominal"},"y":{"datum":0,"type":"quantitative"},"text":{"value":"Control"}}},
 {"mark":{"type":"text","style":"lab","fontStyle":"italic"},"encoding":{"x":{"datum":"Positive","type":"nominal"},"y":{"datum":0,"type":"quantitative"},"text":{"value":"Cryptosporidium"}}}
]},
{"width":143,"height":130,"data":{"name":"ann"},"transform":[{"filter":"datum.p=='G'"}],"layer":[
 {"data":{"name":"pts"},"transform":[{"filter":"datum.p=='G'"}],"mark":{"type":"boxplot","extent":"min-max","size":38,"box":{"stroke":"#333","strokeWidth":1},"median":{"color":"#1a1a1a","thickness":1.4},"rule":{"color":"#333","strokeWidth":1.2},"ticks":{"color":"#333","size":21,"thickness":1.3}},
  "encoding":{"x":{"field":"g","type":"nominal","title":null,"scale":{"domain":["Control","Positive"],"paddingInner":0.38,"paddingOuter":0.39},"axis":{"labelExpr":"datum.value=='Control'?'(n=30)':'-Positive (n=30)'"}},
   "y":{"field":"v","type":"quantitative","title":"Relative Abundance","scale":{"domain":[0,0.0015],"nice":false},"axis":{"values":[0,0.0005,0.001,0.0015],"format":".4f","labelOverlap":false,"tickCount":4}},
   "color":{"field":"g","type":"nominal","legend":null,"scale":{"domain":["Control","Positive"],"range":["#4a8ee6","#fcc640"]}}}},
 {"data":{"name":"pts"},"transform":[{"filter":"datum.p=='G'"},{"window":[{"op":"row_number","as":"rk"}],"sort":[{"field":"v"}],"groupby":["g"]}],"mark":{"type":"circle","size":17,"strokeWidth":1,"opacity":1},
  "encoding":{"x":{"field":"g","type":"nominal"},"xOffset":{"field":"rk","type":"nominal","scale":{"domain":[7,20,3,16,29,12,25,8,21,4,17,30,13,26,9,22,5,18,1,14,27,10,23,6,19,2,15,28,11,24]}},"y":{"field":"v","type":"quantitative"},
   "fill":{"field":"g","type":"nominal","legend":null,"scale":{"domain":["Control","Positive"],"range":["#5d97dc","#e9c24f"]}},
   "stroke":{"field":"g","type":"nominal","legend":null,"scale":{"domain":["Control","Positive"],"range":["#1e3a66","#5e4a16"]}}}},
 {"mark":{"type":"text","style":"ttl"},"encoding":{"y":{"datum":0.0015,"type":"quantitative"},"text":{"field":"ti"}}},
 {"mark":{"type":"text","style":"let","dy":-20.5},"encoding":{"y":{"datum":0.0015,"type":"quantitative"},"text":{"field":"p"}}},
 {"mark":{"type":"text","style":"stt"},"encoding":{"y":{"datum":0.0015,"type":"quantitative"},"text":{"field":"st"}}},
 {"mark":{"type":"text","style":"lab"},"encoding":{"x":{"datum":"Control","type":"nominal"},"y":{"datum":0,"type":"quantitative"},"text":{"value":"Control"}}},
 {"mark":{"type":"text","style":"lab","fontStyle":"italic"},"encoding":{"x":{"datum":"Positive","type":"nominal"},"y":{"datum":0,"type":"quantitative"},"text":{"value":"Cryptosporidium"}}}
]},
{"width":143,"height":130,"data":{"name":"ann"},"transform":[{"filter":"datum.p=='H'"}],"layer":[
 {"data":{"name":"pts"},"transform":[{"filter":"datum.p=='H'"}],"mark":{"type":"boxplot","extent":"min-max","size":38,"box":{"stroke":"#333","strokeWidth":1},"median":{"color":"#1a1a1a","thickness":1.4},"rule":{"color":"#333","strokeWidth":1.2},"ticks":{"color":"#333","size":21,"thickness":1.3}},
  "encoding":{"x":{"field":"g","type":"nominal","title":null,"scale":{"domain":["Control","Positive"],"paddingInner":0.38,"paddingOuter":0.39},"axis":{"labelExpr":"datum.value=='Control'?'(n=30)':'-Positive (n=30)'"}},
   "y":{"field":"v","type":"quantitative","title":"Relative Abundance","scale":{"domain":[0,0.003],"nice":false},"axis":{"values":[0,0.001,0.002,0.003],"format":".3f","labelOverlap":false,"tickCount":4}},
   "color":{"field":"g","type":"nominal","legend":null,"scale":{"domain":["Control","Positive"],"range":["#4a8ee6","#fcc640"]}}}},
 {"data":{"name":"pts"},"transform":[{"filter":"datum.p=='H'"},{"window":[{"op":"row_number","as":"rk"}],"sort":[{"field":"v"}],"groupby":["g"]}],"mark":{"type":"circle","size":17,"strokeWidth":1,"opacity":1},
  "encoding":{"x":{"field":"g","type":"nominal"},"xOffset":{"field":"rk","type":"nominal","scale":{"domain":[7,20,3,16,29,12,25,8,21,4,17,30,13,26,9,22,5,18,1,14,27,10,23,6,19,2,15,28,11,24]}},"y":{"field":"v","type":"quantitative"},
   "fill":{"field":"g","type":"nominal","legend":null,"scale":{"domain":["Control","Positive"],"range":["#5d97dc","#e9c24f"]}},
   "stroke":{"field":"g","type":"nominal","legend":null,"scale":{"domain":["Control","Positive"],"range":["#1e3a66","#5e4a16"]}}}},
 {"mark":{"type":"text","style":"ttl"},"encoding":{"y":{"datum":0.003,"type":"quantitative"},"text":{"field":"ti"}}},
 {"mark":{"type":"text","style":"let","dy":-20.5},"encoding":{"y":{"datum":0.003,"type":"quantitative"},"text":{"field":"p"}}},
 {"mark":{"type":"text","style":"stt"},"encoding":{"y":{"datum":0.003,"type":"quantitative"},"text":{"field":"st"}}},
 {"mark":{"type":"text","style":"lab"},"encoding":{"x":{"datum":"Control","type":"nominal"},"y":{"datum":0,"type":"quantitative"},"text":{"value":"Control"}}},
 {"mark":{"type":"text","style":"lab","fontStyle":"italic"},"encoding":{"x":{"datum":"Positive","type":"nominal"},"y":{"datum":0,"type":"quantitative"},"text":{"value":"Cryptosporidium"}}}
]},
{"width":143,"height":130,"data":{"name":"ann"},"transform":[{"filter":"datum.p=='I'"}],"layer":[
 {"data":{"name":"pts"},"transform":[{"filter":"datum.p=='I'"}],"mark":{"type":"boxplot","extent":"min-max","size":38,"box":{"stroke":"#333","strokeWidth":1},"median":{"color":"#1a1a1a","thickness":1.4},"rule":{"color":"#333","strokeWidth":1.2},"ticks":{"color":"#333","size":21,"thickness":1.3}},
  "encoding":{"x":{"field":"g","type":"nominal","title":null,"scale":{"domain":["Control","Positive"],"paddingInner":0.38,"paddingOuter":0.39},"axis":{"labelExpr":"datum.value=='Control'?'(n=30)':'-Positive (n=30)'"}},
   "y":{"field":"v","type":"quantitative","title":"Relative Abundance","scale":{"domain":[0,0.008],"nice":false},"axis":{"values":[0,0.002,0.004,0.006,0.008],"format":".3f","labelOverlap":false,"tickCount":5}},
   "color":{"field":"g","type":"nominal","legend":null,"scale":{"domain":["Control","Positive"],"range":["#17b2a4","#d88fe8"]}}}},
 {"data":{"name":"pts"},"transform":[{"filter":"datum.p=='I'"},{"window":[{"op":"row_number","as":"rk"}],"sort":[{"field":"v"}],"groupby":["g"]}],"mark":{"type":"circle","size":17,"strokeWidth":1,"opacity":1},
  "encoding":{"x":{"field":"g","type":"nominal"},"xOffset":{"field":"rk","type":"nominal","scale":{"domain":[7,20,3,16,29,12,25,8,21,4,17,30,13,26,9,22,5,18,1,14,27,10,23,6,19,2,15,28,11,24]}},"y":{"field":"v","type":"quantitative"},
   "fill":{"field":"g","type":"nominal","legend":null,"scale":{"domain":["Control","Positive"],"range":["#23b3a3","#d390e2"]}},
   "stroke":{"field":"g","type":"nominal","legend":null,"scale":{"domain":["Control","Positive"],"range":["#0c4d46","#5a2a66"]}}}},
 {"mark":{"type":"text","style":"ttl"},"encoding":{"y":{"datum":0.008,"type":"quantitative"},"text":{"field":"ti"}}},
 {"mark":{"type":"text","style":"let","dy":-20.5},"encoding":{"y":{"datum":0.008,"type":"quantitative"},"text":{"field":"p"}}},
 {"mark":{"type":"text","style":"stt"},"encoding":{"y":{"datum":0.008,"type":"quantitative"},"text":{"field":"st"}}},
 {"mark":{"type":"text","style":"lab"},"encoding":{"x":{"datum":"Control","type":"nominal"},"y":{"datum":0,"type":"quantitative"},"text":{"value":"Control"}}},
 {"mark":{"type":"text","style":"lab","fontStyle":"italic"},"encoding":{"x":{"datum":"Positive","type":"nominal"},"y":{"datum":0,"type":"quantitative"},"text":{"value":"Cryptosporidium"}}}
]},
{"width":143,"height":130,"data":{"name":"ann"},"transform":[{"filter":"datum.p=='J'"}],"layer":[
 {"data":{"name":"pts"},"transform":[{"filter":"datum.p=='J'"}],"mark":{"type":"boxplot","extent":"min-max","size":38,"box":{"stroke":"#333","strokeWidth":1},"median":{"color":"#1a1a1a","thickness":1.4},"rule":{"color":"#333","strokeWidth":1.2},"ticks":{"color":"#333","size":21,"thickness":1.3}},
  "encoding":{"x":{"field":"g","type":"nominal","title":null,"scale":{"domain":["Control","Positive"],"paddingInner":0.38,"paddingOuter":0.39},"axis":{"labelExpr":"datum.value=='Control'?'(n=30)':'-Positive (n=30)'"}},
   "y":{"field":"v","type":"quantitative","title":"Relative Abundance","scale":{"domain":[0,0.0025],"nice":false},"axis":{"values":[0,0.0005,0.001,0.0015,0.002,0.0025],"format":".4f","labelOverlap":false,"tickCount":6}},
   "color":{"field":"g","type":"nominal","legend":null,"scale":{"domain":["Control","Positive"],"range":["#4a8ee6","#fcc640"]}}}},
 {"data":{"name":"pts"},"transform":[{"filter":"datum.p=='J'"},{"window":[{"op":"row_number","as":"rk"}],"sort":[{"field":"v"}],"groupby":["g"]}],"mark":{"type":"circle","size":17,"strokeWidth":1,"opacity":1},
  "encoding":{"x":{"field":"g","type":"nominal"},"xOffset":{"field":"rk","type":"nominal","scale":{"domain":[7,20,3,16,29,12,25,8,21,4,17,30,13,26,9,22,5,18,1,14,27,10,23,6,19,2,15,28,11,24]}},"y":{"field":"v","type":"quantitative"},
   "fill":{"field":"g","type":"nominal","legend":null,"scale":{"domain":["Control","Positive"],"range":["#5d97dc","#e9c24f"]}},
   "stroke":{"field":"g","type":"nominal","legend":null,"scale":{"domain":["Control","Positive"],"range":["#1e3a66","#5e4a16"]}}}},
 {"mark":{"type":"text","style":"ttl"},"encoding":{"y":{"datum":0.0025,"type":"quantitative"},"text":{"field":"ti"}}},
 {"mark":{"type":"text","style":"let","dy":-20.5},"encoding":{"y":{"datum":0.0025,"type":"quantitative"},"text":{"field":"p"}}},
 {"mark":{"type":"text","style":"stt"},"encoding":{"y":{"datum":0.0025,"type":"quantitative"},"text":{"field":"st"}}},
 {"mark":{"type":"text","style":"lab"},"encoding":{"x":{"datum":"Control","type":"nominal"},"y":{"datum":0,"type":"quantitative"},"text":{"value":"Control"}}},
 {"mark":{"type":"text","style":"lab","fontStyle":"italic"},"encoding":{"x":{"datum":"Positive","type":"nominal"},"y":{"datum":0,"type":"quantitative"},"text":{"value":"Cryptosporidium"}}}
]},
{"width":143,"height":130,"data":{"name":"ann"},"transform":[{"filter":"datum.p=='K'"}],"layer":[
 {"data":{"name":"pts"},"transform":[{"filter":"datum.p=='K'"}],"mark":{"type":"boxplot","extent":"min-max","size":38,"box":{"stroke":"#333","strokeWidth":1},"median":{"color":"#1a1a1a","thickness":1.4},"rule":{"color":"#333","strokeWidth":1.2},"ticks":{"color":"#333","size":21,"thickness":1.3}},
  "encoding":{"x":{"field":"g","type":"nominal","title":null,"scale":{"domain":["Control","Positive"],"paddingInner":0.38,"paddingOuter":0.39},"axis":{"labelExpr":"datum.value=='Control'?'(n=30)':'-Positive (n=30)'"}},
   "y":{"field":"v","type":"quantitative","title":"Relative Abundance","scale":{"domain":[0,0.001],"nice":false},"axis":{"values":[0,0.0002,0.0004,0.0006,0.0008,0.001],"format":".4f","labelOverlap":false,"tickCount":6}},
   "color":{"field":"g","type":"nominal","legend":null,"scale":{"domain":["Control","Positive"],"range":["#4a8ee6","#fcc640"]}}}},
 {"data":{"name":"pts"},"transform":[{"filter":"datum.p=='K'"},{"window":[{"op":"row_number","as":"rk"}],"sort":[{"field":"v"}],"groupby":["g"]}],"mark":{"type":"circle","size":17,"strokeWidth":1,"opacity":1},
  "encoding":{"x":{"field":"g","type":"nominal"},"xOffset":{"field":"rk","type":"nominal","scale":{"domain":[7,20,3,16,29,12,25,8,21,4,17,30,13,26,9,22,5,18,1,14,27,10,23,6,19,2,15,28,11,24]}},"y":{"field":"v","type":"quantitative"},
   "fill":{"field":"g","type":"nominal","legend":null,"scale":{"domain":["Control","Positive"],"range":["#5d97dc","#e9c24f"]}},
   "stroke":{"field":"g","type":"nominal","legend":null,"scale":{"domain":["Control","Positive"],"range":["#1e3a66","#5e4a16"]}}}},
 {"mark":{"type":"text","style":"ttl"},"encoding":{"y":{"datum":0.001,"type":"quantitative"},"text":{"field":"ti"}}},
 {"mark":{"type":"text","style":"let","dy":-20.5},"encoding":{"y":{"datum":0.001,"type":"quantitative"},"text":{"field":"p"}}},
 {"mark":{"type":"text","style":"stt"},"encoding":{"y":{"datum":0.001,"type":"quantitative"},"text":{"field":"st"}}},
 {"mark":{"type":"text","style":"lab"},"encoding":{"x":{"datum":"Control","type":"nominal"},"y":{"datum":0,"type":"quantitative"},"text":{"value":"Control"}}},
 {"mark":{"type":"text","style":"lab","fontStyle":"italic"},"encoding":{"x":{"datum":"Positive","type":"nominal"},"y":{"datum":0,"type":"quantitative"},"text":{"value":"Cryptosporidium"}}}
]},
{"width":143,"height":130,"data":{"name":"ann"},"transform":[{"filter":"datum.p=='L'"}],"layer":[
 {"data":{"name":"pts"},"transform":[{"filter":"datum.p=='L'"}],"mark":{"type":"boxplot","extent":"min-max","size":38,"box":{"stroke":"#333","strokeWidth":1},"median":{"color":"#1a1a1a","thickness":1.4},"rule":{"color":"#333","strokeWidth":1.2},"ticks":{"color":"#333","size":21,"thickness":1.3}},
  "encoding":{"x":{"field":"g","type":"nominal","title":null,"scale":{"domain":["Control","Positive"],"paddingInner":0.38,"paddingOuter":0.39},"axis":{"labelExpr":"datum.value=='Control'?'(n=30)':'-Positive (n=30)'"}},
   "y":{"field":"v","type":"quantitative","title":"Relative Abundance","scale":{"domain":[0,0.0004],"nice":false},"axis":{"values":[0,0.0001,0.0002,0.0003,0.0004],"format":".4f","labelOverlap":false,"tickCount":5}},
   "color":{"field":"g","type":"nominal","legend":null,"scale":{"domain":["Control","Positive"],"range":["#4a8ee6","#fcc640"]}}}},
 {"data":{"name":"pts"},"transform":[{"filter":"datum.p=='L'"},{"window":[{"op":"row_number","as":"rk"}],"sort":[{"field":"v"}],"groupby":["g"]}],"mark":{"type":"circle","size":17,"strokeWidth":1,"opacity":1},
  "encoding":{"x":{"field":"g","type":"nominal"},"xOffset":{"field":"rk","type":"nominal","scale":{"domain":[7,20,3,16,29,12,25,8,21,4,17,30,13,26,9,22,5,18,1,14,27,10,23,6,19,2,15,28,11,24]}},"y":{"field":"v","type":"quantitative"},
   "fill":{"field":"g","type":"nominal","legend":null,"scale":{"domain":["Control","Positive"],"range":["#5d97dc","#e9c24f"]}},
   "stroke":{"field":"g","type":"nominal","legend":null,"scale":{"domain":["Control","Positive"],"range":["#1e3a66","#5e4a16"]}}}},
 {"mark":{"type":"text","style":"ttl"},"encoding":{"y":{"datum":0.0004,"type":"quantitative"},"text":{"field":"ti"}}},
 {"mark":{"type":"text","style":"let","dy":-20.5},"encoding":{"y":{"datum":0.0004,"type":"quantitative"},"text":{"field":"p"}}},
 {"mark":{"type":"text","style":"stt"},"encoding":{"y":{"datum":0.0004,"type":"quantitative"},"text":{"field":"st"}}},
 {"mark":{"type":"text","style":"lab"},"encoding":{"x":{"datum":"Control","type":"nominal"},"y":{"datum":0,"type":"quantitative"},"text":{"value":"Control"}}},
 {"mark":{"type":"text","style":"lab","fontStyle":"italic"},"encoding":{"x":{"datum":"Positive","type":"nominal"},"y":{"datum":0,"type":"quantitative"},"text":{"value":"Cryptosporidium"}}}
]}
]
}
